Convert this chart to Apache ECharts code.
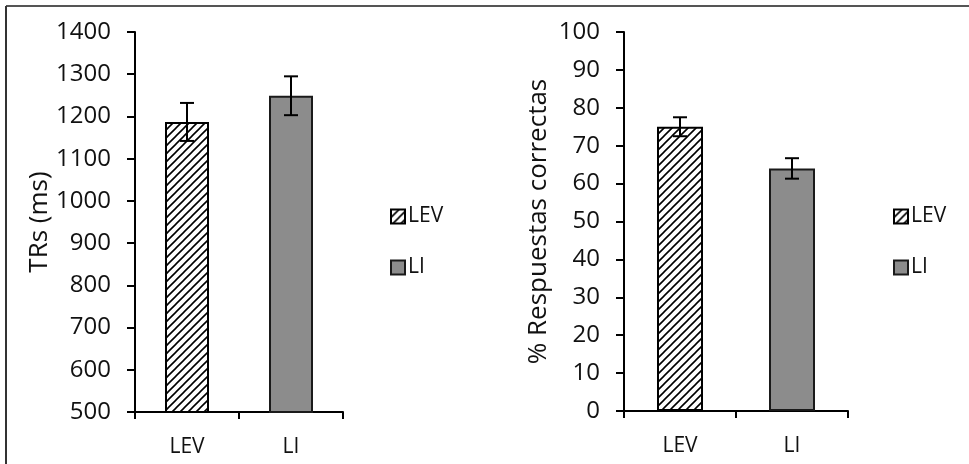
<!DOCTYPE html>
<html>
<head>
<meta charset="utf-8">
<script src="https://cdn.jsdelivr.net/npm/echarts@6/dist/echarts.min.js"></script>
<style>
html,body{margin:0;padding:0;background:#fff;}
#chart{width:969px;height:464px;}
</style>
</head>
<body>
<div id="chart"></div>
<script>
// ---- data ----
const categories = ['LEV', 'LI'];
const trMeans = [1187, 1249];
const trErrors = [45, 46];
const pcMeans = [75, 64];
const pcErrors = [2.5, 2.7];
const trTicks = { min: 500, max: 1400, interval: 100 };
const pcTicks = { min: 0, max: 100, interval: 10 };
const trTitle = 'TRs (ms)';
const pcTitle = '% Respuestas correctas';

// ---- styles ----
const FONT = 'Open Sans';
const TXT = '#111';

function hatch() {
  const c = document.createElement('canvas');
  c.width = 8; c.height = 8;
  const g = c.getContext('2d');
  g.fillStyle = '#fff'; g.fillRect(0, 0, 8, 8);
  g.strokeStyle = '#000'; g.lineWidth = 1.6;
  g.beginPath();
  g.moveTo(0, 8); g.lineTo(8, 0);
  g.moveTo(-2, 2); g.lineTo(2, -2);
  g.moveTo(6, 10); g.lineTo(10, 6);
  g.stroke();
  return c;
}
const hatchFill = { image: hatch(), repeat: 'repeat' };
const levStyle = { color: hatchFill, borderColor: '#000', borderWidth: 2 };
const liStyle = { color: '#8c8c8c', borderColor: '#1a1a1a', borderWidth: 2 };

function only(arr, idx) { return arr.map((v, i) => i === idx ? v : '-'); }

function errorSeries(means, errs, axisIdx) {
  return {
    type: 'custom', xAxisIndex: axisIdx, yAxisIndex: axisIdx, z: 5, silent: true,
    data: means.map((m, i) => [i, m - errs[i], m + errs[i]]),
    renderItem: function (params, api) {
      const lo = api.coord([api.value(0), api.value(1)]);
      const hi = api.coord([api.value(0), api.value(2)]);
      const w = 7;
      const st = { stroke: '#000', lineWidth: 2 };
      return { type: 'group', children: [
        { type: 'line', shape: { x1: hi[0], y1: hi[1], x2: lo[0], y2: lo[1] }, style: st },
        { type: 'line', shape: { x1: hi[0] - w, y1: hi[1], x2: hi[0] + w, y2: hi[1] }, style: st },
        { type: 'line', shape: { x1: lo[0] - w, y1: lo[1], x2: lo[0] + w, y2: lo[1] }, style: st }
      ]};
    }
  };
}

function xAxis(gridIndex) {
  return {
    type: 'category', gridIndex, data: categories,
    axisLine: { lineStyle: { color: '#000', width: 2 } },
    axisTick: { show: true, length: 7, lineStyle: { color: '#000', width: 2 }, alignWithLabel: false },
    axisLabel: { color: TXT, fontFamily: FONT, fontSize: 21, margin: 25 }
  };
}
function yAxis(gridIndex, t, name, gap) {
  return {
    type: 'value', gridIndex, min: t.min, max: t.max, interval: t.interval,
    name, nameLocation: 'middle', nameGap: gap,
    nameTextStyle: { color: TXT, fontFamily: FONT, fontSize: 26 },
    splitLine: { show: false },
    axisLine: { show: true, lineStyle: { color: '#000', width: 2 } },
    axisTick: { show: true, length: 8, lineStyle: { color: '#000', width: 2 } },
    axisLabel: { color: TXT, fontFamily: FONT, fontSize: 24, margin: 24, formatter: v => String(v) }
  };
}
function legend(left) {
  return {
    left, top: 201, orient: 'vertical', itemGap: 30, itemWidth: 14, itemHeight: 14,
    icon: 'rect', data: categories, selectedMode: false,
    textStyle: { color: TXT, fontFamily: FONT, fontSize: 21, padding: [0, 0, 0, -2] }
  };
}

const option = {
  animation: false,
  backgroundColor: '#fff',
  grid: [
    { left: 135, width: 208, top: 32, height: 380 },
    { left: 624, width: 224, top: 32, height: 379 }
  ],
  xAxis: [xAxis(0), xAxis(1)],
  yAxis: [yAxis(0, trTicks, trTitle, 82), yAxis(1, pcTicks, pcTitle, 72)],
  legend: [legend(385), legend(888)],
  series: [
    { name: 'LEV', type: 'bar', xAxisIndex: 0, yAxisIndex: 0, barWidth: 44, barGap: '-100%', data: only(trMeans, 0), itemStyle: levStyle },
    { name: 'LI', type: 'bar', xAxisIndex: 0, yAxisIndex: 0, barWidth: 44, barGap: '-100%', data: only(trMeans, 1), itemStyle: liStyle },
    { name: 'LEV', type: 'bar', xAxisIndex: 1, yAxisIndex: 1, barWidth: 46, barGap: '-100%', data: only(pcMeans, 0), itemStyle: levStyle },
    { name: 'LI', type: 'bar', xAxisIndex: 1, yAxisIndex: 1, barWidth: 46, barGap: '-100%', data: only(pcMeans, 1), itemStyle: liStyle },
    errorSeries(trMeans, trErrors, 0),
    errorSeries(pcMeans, pcErrors, 1)
  ],
  graphic: [
    { type: 'line', shape: { x1: 6, y1: 6, x2: 969, y2: 6 }, style: { stroke: '#555', lineWidth: 2 } },
    { type: 'line', shape: { x1: 6, y1: 6, x2: 6, y2: 464 }, style: { stroke: '#333', lineWidth: 2 } }
  ]
};

const chart = echarts.init(document.getElementById('chart'), null, { renderer: 'canvas' });
chart.setOption(option);
</script>
</body>
</html>
